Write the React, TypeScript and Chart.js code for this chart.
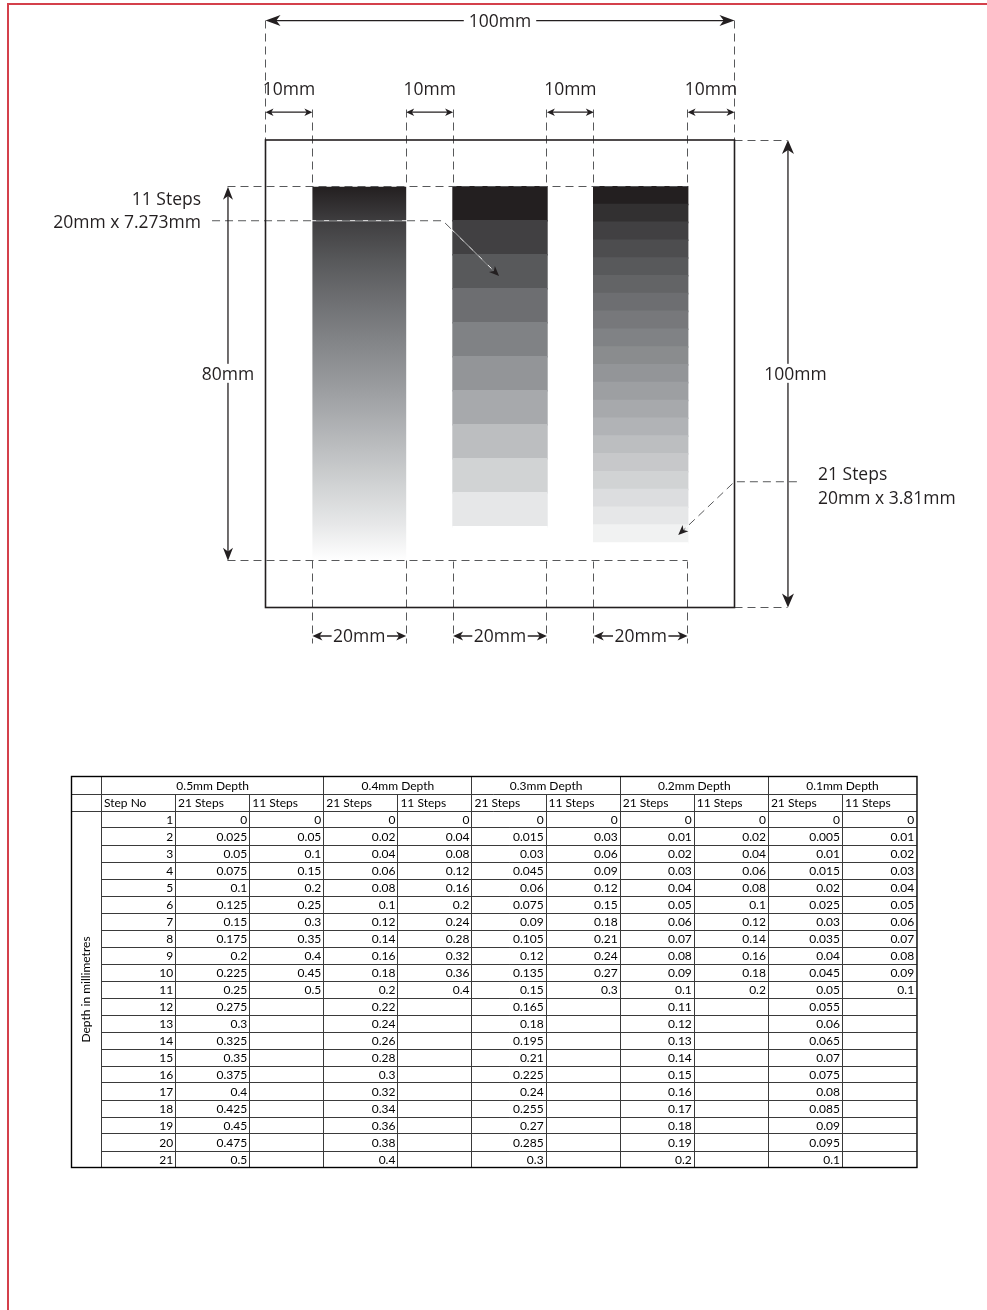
import React, { useEffect, useRef } from 'react';
import { Chart, registerables } from 'chart.js';

Chart.register(...registerables);

/* ---------------- data ---------------- */
const depthHeaders = ['0.5mm Depth', '0.4mm Depth', '0.3mm Depth', '0.2mm Depth', '0.1mm Depth'];
const columnHeaders = ['Step No', '21 Steps', '11 Steps'];
const sideLabel = 'Depth in millimetres';

const stepNumbers = [1, 2, 3, 4, 5, 6, 7, 8, 9, 10, 11, 12, 13, 14, 15, 16, 17, 18, 19, 20, 21];

const depth05Steps21 = [0, 0.025, 0.05, 0.075, 0.1, 0.125, 0.15, 0.175, 0.2, 0.225, 0.25, 0.275, 0.3, 0.325, 0.35, 0.375, 0.4, 0.425, 0.45, 0.475, 0.5];
const depth05Steps11 = [0, 0.05, 0.1, 0.15, 0.2, 0.25, 0.3, 0.35, 0.4, 0.45, 0.5];
const depth04Steps21 = [0, 0.02, 0.04, 0.06, 0.08, 0.1, 0.12, 0.14, 0.16, 0.18, 0.2, 0.22, 0.24, 0.26, 0.28, 0.3, 0.32, 0.34, 0.36, 0.38, 0.4];
const depth04Steps11 = [0, 0.04, 0.08, 0.12, 0.16, 0.2, 0.24, 0.28, 0.32, 0.36, 0.4];
const depth03Steps21 = [0, 0.015, 0.03, 0.045, 0.06, 0.075, 0.09, 0.105, 0.12, 0.135, 0.15, 0.165, 0.18, 0.195, 0.21, 0.225, 0.24, 0.255, 0.27, 0.285, 0.3];
const depth03Steps11 = [0, 0.03, 0.06, 0.09, 0.12, 0.15, 0.18, 0.21, 0.24, 0.27, 0.3];
const depth02Steps21 = [0, 0.01, 0.02, 0.03, 0.04, 0.05, 0.06, 0.07, 0.08, 0.09, 0.1, 0.11, 0.12, 0.13, 0.14, 0.15, 0.16, 0.17, 0.18, 0.19, 0.2];
const depth02Steps11 = [0, 0.02, 0.04, 0.06, 0.08, 0.1, 0.12, 0.14, 0.16, 0.18, 0.2];
const depth01Steps21 = [0, 0.005, 0.01, 0.015, 0.02, 0.025, 0.03, 0.035, 0.04, 0.045, 0.05, 0.055, 0.06, 0.065, 0.07, 0.075, 0.08, 0.085, 0.09, 0.095, 0.1];
const depth01Steps11 = [0, 0.01, 0.02, 0.03, 0.04, 0.05, 0.06, 0.07, 0.08, 0.09, 0.1];

const steps21ByDepth = [depth05Steps21, depth04Steps21, depth03Steps21, depth02Steps21, depth01Steps21];
const steps11ByDepth = [depth05Steps11, depth04Steps11, depth03Steps11, depth02Steps11, depth01Steps11];

// drawing texts
const overallLabel = '100mm';
const gapLabel = '10mm';
const heightLabel = '80mm';
const stripLabel = '20mm';
const note11 = ['11 Steps', '20mm x 7.273mm'];
const note21 = ['21 Steps', '20mm x 3.81mm'];

/* ---------------- styles ---------------- */
const INK = '#231f20';
const DASH_INK = '#58595b';
const DASH = [8, 5];
const RED = '#d4404b';
const DRAW_FONT = '17.5px "Open Sans", sans-serif';
const TABLE_FONT = '12px Lato, sans-serif';
const GRID_INK = '#3a3a3a';
const SHADES_11 = ['#231f20', '#414042', '#58595b', '#6d6e71', '#808285', '#939598', '#a7a9ac', '#bcbec0', '#d1d3d4', '#e6e7e8', '#ffffff'];
const SHADES_21 = ['#231f20', '#323031', '#414042', '#4d4d4f', '#58595b', '#636466', '#6d6e71', '#77787b', '#808285', '#8a8c8e', '#939598', '#9d9fa2', '#a7a9ac', '#b1b3b6', '#bcbec0', '#c7c8ca', '#d1d3d4', '#dcdddf', '#e6e7e8', '#f1f2f2', '#ffffff'];

/* ---------------- drawing layout (millimetres) ---------------- */
const DRAW_W = 987;
const DRAW_H = 700;
const ORIGIN_PX_X = 265.5;
const ORIGIN_PX_Y = 140;
const X_PX_PER_MM = 4.69;
const Y_PX_PER_MM = 4.675;

const SQUARE = 100;
const STRIP_TOP = 10;
const STRIP_LEN = 80;
const STRIP_W = 20;
const STRIP_GAP = 10;
const STRIP_LEFTS = [0, 1, 2].map(i => STRIP_GAP + i * (STRIP_W + STRIP_GAP));
const STRIP_CENTERS = STRIP_LEFTS.map(l => l + STRIP_W / 2);
const STRIP_EDGES = STRIP_LEFTS.flatMap(l => [l, l + STRIP_W]);
const GAPS = [[0, 10], [30, 40], [60, 70], [90, 100]];

const TOP_DIM_Y = -25.55;
const TOP_LABEL_BASE = -24.25;
const GAP_DIM_Y = -5.95;
const GAP_LABEL_BASE = -9.6;
const GAP_TICK_TOP = -6.6;
const LEFT_DIM_X = -8;
const MID_LABEL_BASE = 51.3;
const RIGHT_DIM_X = 111.4;
const RIGHT_LABEL_X = 113;
const BOTTOM_DIM_Y = 106.1;
const BOTTOM_LABEL_BASE = 107.3;
const BOTTOM_TICK_END = 107.6;
const LEAD11 = [[-11.4, 17.27], [37.8, 17.27], [49.8, 29.1]];
const NOTE11_X = -13.75;
const NOTE11_BASES = [13.9, 18.9];
const LEAD21 = [[113.3, 73.1], [100, 73.1], [88, 84.5]];
const NOTE21_X = 117.8;
const NOTE21_BASES = [72.7, 77.9];

/* ---------------- table layout ---------------- */
const TABLE_LEFT = 60;
const TABLE_TOP = 770;
const TABLE_W = 870;
const TABLE_H = 410;
const T_ORIGIN_X = 41.5; // px inside the table canvas where "Step No" column starts
const T_ORIGIN_Y = 7;
const T_COL_PX = 74.1;
const T_ROW_PX = 17;
const SIDE_COL = 0.41;
const CELL_PAD = 2.5;

const cr = (p: number) => Math.round(p - 0.5) + 0.5;

function arrowHead(ctx: CanvasRenderingContext2D, x: number, y: number, angle: number, len: number, half: number) {
  ctx.save();
  ctx.translate(x, y);
  ctx.rotate(angle);
  ctx.beginPath();
  ctx.moveTo(0, 0);
  ctx.lineTo(-len, -half);
  ctx.lineTo(-len * 0.72, 0);
  ctx.lineTo(-len, half);
  ctx.closePath();
  ctx.fill();
  ctx.restore();
}

function dimension(ctx: CanvasRenderingContext2D, x1: number, y1: number, x2: number, y2: number, len: number, half: number) {
  const a = Math.atan2(y2 - y1, x2 - x1);
  const c = Math.cos(a), s = Math.sin(a);
  ctx.beginPath();
  ctx.moveTo(x1 + c * len * 0.6, y1 + s * len * 0.6);
  ctx.lineTo(x2 - c * len * 0.6, y2 - s * len * 0.6);
  ctx.stroke();
  arrowHead(ctx, x2, y2, a, len, half);
  arrowHead(ctx, x1, y1, a + Math.PI, len, half);
}

function labelOnLine(ctx: CanvasRenderingContext2D, text: string, cx: number, base: number, padX: number, padY: number) {
  const m = ctx.measureText(text);
  const asc = m.actualBoundingBoxAscent;
  ctx.fillStyle = '#ffffff';
  ctx.fillRect(cx - m.width / 2 - padX, base - asc - padY, m.width + padX * 2, asc + padY * 2);
  ctx.fillStyle = INK;
  ctx.textAlign = 'center';
  ctx.fillText(text, cx, base);
}

function leader(ctx: CanvasRenderingContext2D, pts: number[][], len: number, half: number) {
  const n = pts.length;
  const [tx, ty] = pts[n - 1];
  const [px, py] = pts[n - 2];
  const a = Math.atan2(ty - py, tx - px);
  const ex = tx - Math.cos(a) * len * 0.7;
  const ey = ty - Math.sin(a) * len * 0.7;
  const path = () => {
    ctx.beginPath();
    ctx.moveTo(pts[0][0], pts[0][1]);
    for (let i = 1; i < n - 1; i++) ctx.lineTo(pts[i][0], pts[i][1]);
    ctx.lineTo(ex, ey);
  };
  ctx.lineWidth = 1;
  ctx.setLineDash([]);
  ctx.strokeStyle = '#ffffff';
  path();
  ctx.stroke();
  ctx.setLineDash(DASH);
  ctx.strokeStyle = DASH_INK;
  path();
  ctx.stroke();
  ctx.setLineDash([]);
  ctx.fillStyle = INK;
  arrowHead(ctx, tx, ty, a, len, half);
}

function dashedSeg(chart: any, x1: number, y1: number, x2: number, y2: number) {
  const { ctx } = chart;
  const X = (v: number) => chart.scales.x.getPixelForValue(v);
  const Y = (v: number) => chart.scales.y.getPixelForValue(v);
  ctx.beginPath();
  ctx.moveTo(cr(X(x1)), cr(Y(y1)));
  ctx.lineTo(cr(X(x2)), cr(Y(y2)));
  ctx.stroke();
}

const drawingPlugin = {
  id: 'drawingAnnotations',
  beforeDatasetsDraw(chart: any) {
    const { ctx } = chart;
    const seg = (x1: number, y1: number, x2: number, y2: number) => dashedSeg(chart, x1, y1, x2, y2);
    ctx.save();
    ctx.strokeStyle = DASH_INK;
    ctx.lineWidth = 1;
    ctx.setLineDash(DASH);
    seg(0, TOP_DIM_Y, 0, 0);
    seg(SQUARE, TOP_DIM_Y, SQUARE, 0);
    STRIP_EDGES.forEach(e => seg(e, GAP_TICK_TOP, e, STRIP_TOP));
    STRIP_EDGES.forEach(e => seg(e, STRIP_TOP + STRIP_LEN, e, BOTTOM_TICK_END));
    seg(SQUARE, 0, RIGHT_DIM_X, 0);
    seg(SQUARE, SQUARE, RIGHT_DIM_X, SQUARE);
    ctx.restore();
  },
  afterDatasetsDraw(chart: any) {
    const { ctx } = chart;
    const X = (v: number) => chart.scales.x.getPixelForValue(v);
    const Y = (v: number) => chart.scales.y.getPixelForValue(v);
    ctx.save();

    // horizontal guides across the strip tops / bottoms
    ctx.strokeStyle = DASH_INK;
    ctx.lineWidth = 1;
    ctx.setLineDash(DASH);
    dashedSeg(chart, LEFT_DIM_X, STRIP_TOP, STRIP_EDGES[5], STRIP_TOP);
    dashedSeg(chart, LEFT_DIM_X, STRIP_TOP + STRIP_LEN, STRIP_EDGES[5], STRIP_TOP + STRIP_LEN);
    ctx.setLineDash([]);

    ctx.font = DRAW_FONT;
    ctx.textBaseline = 'alphabetic';

    // leaders first (white underlay must not cut solid lines)
    leader(ctx, LEAD11.map(([a, b]) => [X(a), Y(b)]), 10, 4.2);
    leader(ctx, LEAD21.map(([a, b]) => [X(a), Y(b)]), 10, 4.2);

    ctx.setLineDash([]);
    ctx.strokeStyle = INK;
    ctx.fillStyle = INK;

    // the 100 x 100 square
    ctx.lineWidth = 1.6;
    ctx.strokeRect(X(0), Y(0), X(SQUARE) - X(0), Y(SQUARE) - Y(0));

    ctx.lineWidth = 1.3;
    // overall width
    dimension(ctx, X(0), Y(TOP_DIM_Y), X(SQUARE), Y(TOP_DIM_Y), 15, 5.5);
    labelOnLine(ctx, overallLabel, X(SQUARE / 2), Y(TOP_LABEL_BASE), 5, 3);

    // 10mm gaps
    GAPS.forEach(([a, b]) => {
      ctx.strokeStyle = INK;
      ctx.fillStyle = INK;
      dimension(ctx, X(a), Y(GAP_DIM_Y), X(b), Y(GAP_DIM_Y), 8, 3.8);
      ctx.textAlign = 'center';
      ctx.fillText(gapLabel, X((a + b) / 2), Y(GAP_LABEL_BASE));
    });

    // 80mm height
    ctx.fillStyle = INK;
    dimension(ctx, X(LEFT_DIM_X), Y(STRIP_TOP), X(LEFT_DIM_X), Y(STRIP_TOP + STRIP_LEN), 13, 5);
    labelOnLine(ctx, heightLabel, X(LEFT_DIM_X), Y(MID_LABEL_BASE), 1, 3);

    // 100mm height
    dimension(ctx, X(RIGHT_DIM_X), Y(0), X(RIGHT_DIM_X), Y(SQUARE), 14, 6);
    labelOnLine(ctx, overallLabel, X(RIGHT_LABEL_X), Y(MID_LABEL_BASE), 1, 3);

    // 20mm strip widths
    STRIP_LEFTS.forEach(l => {
      dimension(ctx, X(l), Y(BOTTOM_DIM_Y), X(l + STRIP_W), Y(BOTTOM_DIM_Y), 10, 4.5);
      labelOnLine(ctx, stripLabel, X(l + STRIP_W / 2), Y(BOTTOM_LABEL_BASE), 1.5, 2);
    });

    // step notes
    ctx.fillStyle = INK;
    ctx.textAlign = 'right';
    note11.forEach((t, i) => ctx.fillText(t, X(NOTE11_X), Y(NOTE11_BASES[i])));
    ctx.textAlign = 'left';
    note21.forEach((t, i) => ctx.fillText(t, X(NOTE21_X), Y(NOTE21_BASES[i])));
    ctx.restore();
  },
};

function gradientFill(c: any) {
  const chart = c.chart;
  const y = chart.scales && chart.scales.y;
  if (!y) return SHADES_11[5];
  const y0 = y.getPixelForValue(STRIP_TOP);
  const y1 = y.getPixelForValue(STRIP_TOP + STRIP_LEN);
  if (!Number.isFinite(y0) || !Number.isFinite(y1) || y0 === y1) return SHADES_11[5];
  const g = chart.ctx.createLinearGradient(0, y0, 0, y1);
  SHADES_11.forEach((col, i) => g.addColorStop(i / (SHADES_11.length - 1), col));
  return g;
}

function drawingConfig(): any {
  const h11 = STRIP_LEN / steps11ByDepth[0].length;
  const h21 = STRIP_LEN / stepNumbers.length;
  return {
    type: 'bar',
    data: {
      datasets: [
        {
          label: 'Continuous',
          grouped: false,
          inflateAmount: 0,
          data: [{ x: STRIP_CENTERS[0], y: [STRIP_TOP, STRIP_TOP + STRIP_LEN] }],
          backgroundColor: gradientFill,
        },
        {
          label: '11 Steps',
          grouped: false,
          data: steps11ByDepth[0].map((_, i) => ({ x: STRIP_CENTERS[1], y: [STRIP_TOP + i * h11, STRIP_TOP + (i + 1) * h11] })),
          backgroundColor: SHADES_11,
        },
        {
          label: '21 Steps',
          grouped: false,
          data: stepNumbers.map((_, i) => ({ x: STRIP_CENTERS[2], y: [STRIP_TOP + i * h21, STRIP_TOP + (i + 1) * h21] })),
          backgroundColor: SHADES_21,
        },
      ],
    },
    options: {
      animation: false,
      responsive: false,
      devicePixelRatio: 1,
      events: [],
      layout: { padding: 0 },
      datasets: {
        bar: {
          categoryPercentage: 1,
          barPercentage: STRIP_W / (STRIP_W + STRIP_GAP),
          borderWidth: 0,
          inflateAmount: 0.8,
        },
      },
      plugins: { legend: { display: false }, tooltip: { enabled: false } },
      scales: {
        x: {
          type: 'linear',
          display: false,
          offset: false,
          min: -ORIGIN_PX_X / X_PX_PER_MM,
          max: (DRAW_W - ORIGIN_PX_X) / X_PX_PER_MM,
          afterBuildTicks: (s: any) => {
            s.ticks = STRIP_CENTERS.map(value => ({ value }));
          },
        },
        y: {
          type: 'linear',
          display: false,
          reverse: true,
          min: -ORIGIN_PX_Y / Y_PX_PER_MM,
          max: (DRAW_H - ORIGIN_PX_Y) / Y_PX_PER_MM,
        },
      },
    },
    plugins: [drawingPlugin],
  };
}

/* ---------------- table ---------------- */
const N_COLS = 1 + depthHeaders.length * 2;
const N_ROWS = 2 + stepNumbers.length;

const tablePlugin = {
  id: 'depthTable',
  afterDatasetsDraw(chart: any) {
    const { ctx } = chart;
    const X = (v: number) => chart.scales.x.getPixelForValue(v);
    const Y = (v: number) => chart.scales.y.getPixelForValue(v);
    ctx.save();
    ctx.strokeStyle = GRID_INK;
    ctx.lineWidth = 1;
    const hl = (r: number, c0: number, c1: number) => {
      ctx.beginPath();
      ctx.moveTo(X(c0), cr(Y(r)));
      ctx.lineTo(X(c1), cr(Y(r)));
      ctx.stroke();
    };
    const vl = (c: number, r0: number, r1: number) => {
      ctx.beginPath();
      ctx.moveTo(cr(X(c)), Y(r0));
      ctx.lineTo(cr(X(c)), Y(r1));
      ctx.stroke();
    };
    hl(1, -SIDE_COL, N_COLS);
    hl(2, -SIDE_COL, N_COLS);
    for (let r = 3; r < N_ROWS; r++) hl(r, 0, N_COLS);
    vl(0, 0, N_ROWS);
    for (let c = 1; c < N_COLS; c++) vl(c, c % 2 === 1 && c > 1 ? 0 : 1, N_ROWS);
    ctx.strokeStyle = '#000';
    ctx.lineWidth = 1.4;
    ctx.strokeRect(cr(X(-SIDE_COL)), cr(Y(0)), X(N_COLS) - X(-SIDE_COL), Y(N_ROWS) - Y(0));

    ctx.fillStyle = '#000';
    ctx.font = TABLE_FONT;
    ctx.textBaseline = 'middle';

    // depth headers
    ctx.textAlign = 'center';
    depthHeaders.forEach((h, g) => {
      const c0 = g === 0 ? 0 : 1 + 2 * g;
      const c1 = 3 + 2 * g;
      ctx.fillText(h, (X(c0) + X(c1)) / 2, Y(0.5) + 0.5);
    });
    // column headers
    ctx.textAlign = 'left';
    ctx.fillText(columnHeaders[0], X(0) + CELL_PAD, Y(1.5) + 0.5);
    depthHeaders.forEach((_, g) => {
      ctx.fillText(columnHeaders[1], X(1 + 2 * g) + CELL_PAD, Y(1.5) + 0.5);
      ctx.fillText(columnHeaders[2], X(2 + 2 * g) + CELL_PAD, Y(1.5) + 0.5);
    });

    // data cells
    ctx.textAlign = 'right';
    chart.data.datasets.forEach((ds: any, i: number) => {
      const meta = chart.getDatasetMeta(i);
      meta.data.forEach((el: any, j: number) => {
        ctx.fillText(ds.data[j].t, el.x - CELL_PAD, el.y + 0.5);
      });
    });

    // side label
    ctx.save();
    ctx.translate(X(-SIDE_COL / 2), Y(2 + stepNumbers.length / 2));
    ctx.rotate(-Math.PI / 2);
    ctx.textAlign = 'center';
    ctx.fillText(sideLabel, 0, 0);
    ctx.restore();
    ctx.restore();
  },
};

function tableConfig(): any {
  const cellSet = (label: string, values: number[], col: number) => ({
    label,
    data: values.map((v, r) => ({ x: col + 1, y: 2 + r + 0.5, t: String(v) })),
    pointRadius: 0,
    showLine: false,
  });
  const datasets: any[] = [cellSet('Step No', stepNumbers, 0)];
  depthHeaders.forEach((h, g) => {
    datasets.push(cellSet(h + ' 21 Steps', steps21ByDepth[g], 1 + 2 * g));
    datasets.push(cellSet(h + ' 11 Steps', steps11ByDepth[g], 2 + 2 * g));
  });
  return {
    type: 'scatter',
    data: { datasets },
    options: {
      animation: false,
      responsive: false,
      devicePixelRatio: 1,
      events: [],
      layout: { padding: 0 },
      plugins: { legend: { display: false }, tooltip: { enabled: false } },
      scales: {
        x: { type: 'linear', display: false, min: -T_ORIGIN_X / T_COL_PX, max: (TABLE_W - T_ORIGIN_X) / T_COL_PX },
        y: { type: 'linear', display: false, reverse: true, min: -T_ORIGIN_Y / T_ROW_PX, max: (TABLE_H - T_ORIGIN_Y) / T_ROW_PX },
      },
    },
    plugins: [tablePlugin],
  };
}

export default function App() {
  const drawRef = useRef<HTMLCanvasElement>(null);
  const tableRef = useRef<HTMLCanvasElement>(null);
  useEffect(() => {
    let c1: any = null;
    let c2: any = null;
    try {
      c1 = new Chart(drawRef.current as HTMLCanvasElement, drawingConfig());
    } catch (e) {
      console.error(e);
    }
    try {
      c2 = new Chart(tableRef.current as HTMLCanvasElement, tableConfig());
    } catch (e) {
      console.error(e);
    }
    return () => {
      if (c1) c1.destroy();
      if (c2) c2.destroy();
    };
  }, []);
  return (
    <div style={{ position: 'absolute', left: 0, top: 0, width: 987, height: 1310, background: '#fff', overflow: 'hidden' }}>
      <div
        style={{
          position: 'absolute',
          left: 7,
          top: 3,
          width: 1000,
          height: 1320,
          borderTop: `2px solid ${RED}`,
          borderLeft: `2px solid ${RED}`,
        }}
      />
      <canvas ref={drawRef} width={DRAW_W} height={DRAW_H} style={{ position: 'absolute', left: 0, top: 0 }} />
      <canvas ref={tableRef} width={TABLE_W} height={TABLE_H} style={{ position: 'absolute', left: TABLE_LEFT, top: TABLE_TOP }} />
    </div>
  );
}
